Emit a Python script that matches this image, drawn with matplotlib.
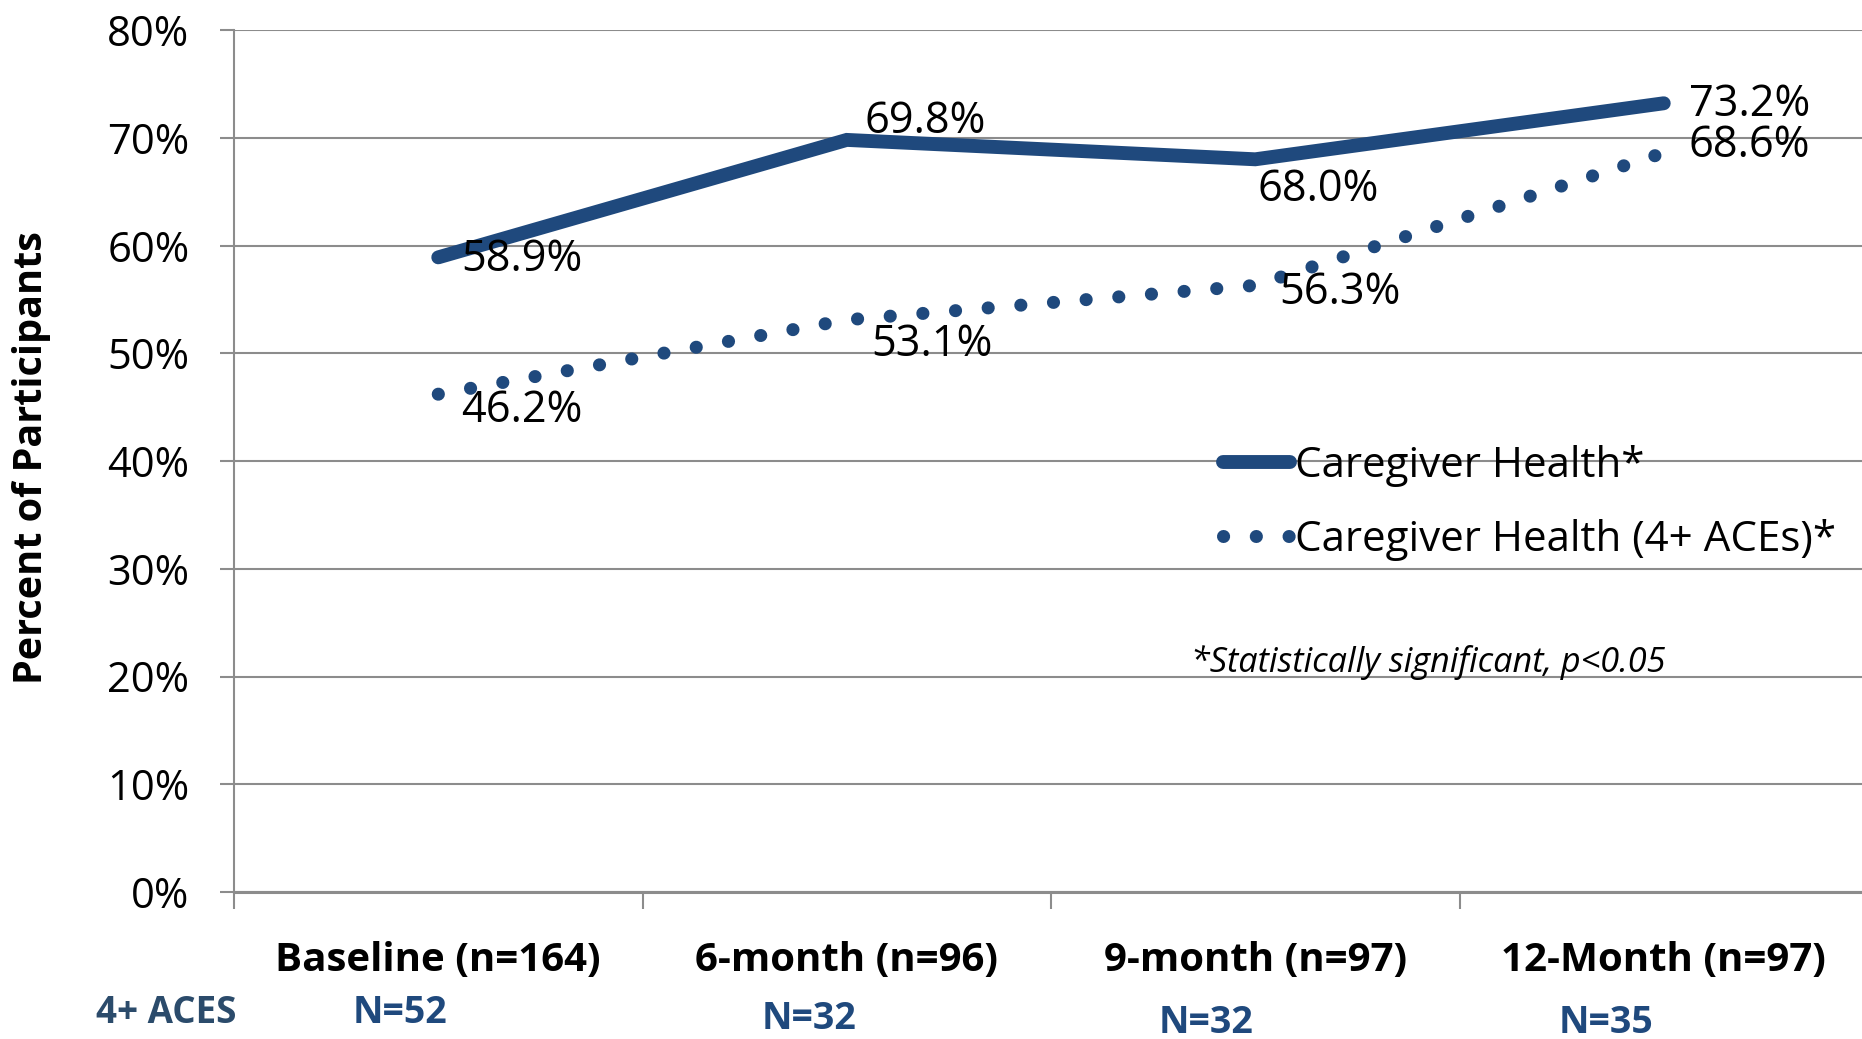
import matplotlib.pyplot as plt

categories = ["Baseline (n=164)", "6-month (n=96)", "9-month (n=97)", "12-Month (n=97)"]
aces_n = ["N=52", "N=32", "N=32", "N=35"]
caregiver = [58.9, 69.8, 68.0, 73.2]
caregiver_aces = [46.2, 53.1, 56.3, 68.6]
series_names = ["Caregiver Health*", "Caregiver Health (4+ ACEs)*"]

blue = "#1F497D"
grid_c = "#8C8C8C"
font = "Open Sans"

fig = plt.figure(figsize=(18.62, 10.39), dpi=100)
ax = fig.add_axes([234 / 1862, 147 / 1039, (1868 - 234) / 1862, (892 - 30) / 1039])

x = list(range(len(categories)))
ax.plot(x, caregiver, color=blue, lw=10, solid_capstyle="round",
        solid_joinstyle="miter", label=series_names[0], zorder=3)
ax.plot(x, caregiver_aces, color=blue, lw=9.4, linestyle=(0, (0.01, 2.5)),
        dash_capstyle="round", label=series_names[1], zorder=3)

# data labels (pixel offsets from each point)
off_a = [(23, -2), (18, 18), (2, -30), (25, -1)]
off_b = [(23, -17), (24, -25), (24, -7), (25, 7)]
for vals, offs in [(caregiver, off_a), (caregiver_aces, off_b)]:
    for i, v in enumerate(vals):
        ax.annotate(f"{v:.1f}%", (i, v), xytext=offs[i], textcoords="offset pixels",
                    ha="left", va="center", fontsize=31.2, family=font, zorder=4)

ax.set_xlim(-0.5, 3.5)
ax.set_ylim(0, 80)
ax.set_yticks(range(0, 81, 10))
ax.set_yticklabels([f"{t}%" for t in range(0, 81, 10)], fontsize=30, family=font)
ax.yaxis.grid(True, color=grid_c, lw=1.5)
ax.set_axisbelow(True)
ax.tick_params(axis="y", length=10, width=1.5, color=grid_c, pad=22)

ax.set_xticks([-0.5, 0.5, 1.5, 2.5, 3.5])
ax.set_xticklabels([])
ax.set_xticks(x, minor=True)
ax.set_xticklabels(categories, minor=True, fontsize=29, fontweight="bold", family=font)
ax.tick_params(axis="x", which="major", length=12, width=1.5, color=grid_c, direction="out")
ax.tick_params(axis="x", which="minor", length=0, pad=35)

for s in ["top", "right"]:
    ax.spines[s].set_visible(False)
ax.spines["left"].set_color(grid_c)
ax.spines["left"].set_linewidth(1.5)
ax.spines["bottom"].set_color(grid_c)
ax.spines["bottom"].set_linewidth(2.2)

fig.text(32 / 1862, 1 - 458 / 1039, "Percent of Participants", rotation=90,
         ha="center", va="center", fontsize=28.5, fontweight="bold", family=font)

leg = ax.legend(loc="center left", bbox_to_anchor=(1223 / 1862, 1 - 503 / 1039),
                bbox_transform=fig.transFigure, frameon=False, borderpad=0,
                borderaxespad=0, handlelength=1.6, handletextpad=0.12,
                labelspacing=0.75, prop={"family": font, "size": 30.3})

fig.text(1191 / 1862, 1 - 663 / 1039, "*Statistically significant, p<0.05",
         ha="left", va="center", fontsize=24.7, style="italic", family=font)

fig.text(166 / 1862, 1 - 1013 / 1039, "4+ ACES", ha="center", va="center",
         fontsize=26.5, fontweight="bold", color="#2B4B6B", family=font)

n_off = [(-38, -121), (-38, -127), (-49, -131), (-58, -131)]
trans = ax.get_xaxis_transform()
for i, lab in enumerate(aces_n):
    ax.annotate(lab, (i, 0), xycoords=trans, xytext=n_off[i], textcoords="offset pixels",
                ha="center", va="center", fontsize=27, fontweight="bold", color=blue,
                family=font, annotation_clip=False)

fig.savefig("out.png", dpi=100)
